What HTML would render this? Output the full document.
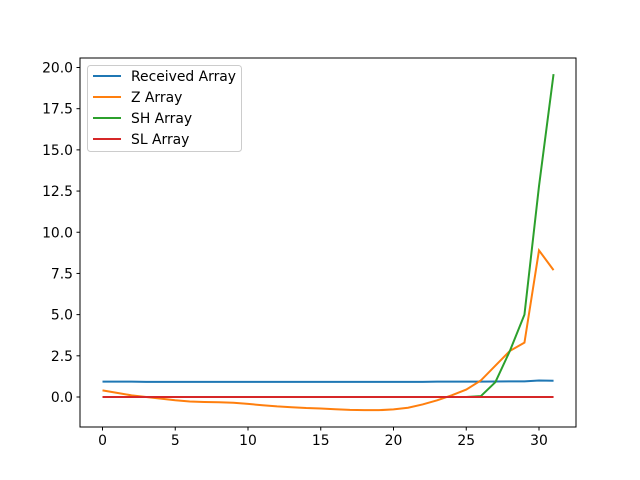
<!DOCTYPE html>
<html><head><meta charset="utf-8"><style>
body{margin:0;background:#fff;}
svg{display:block;font-family:"DejaVu Sans","Liberation Sans",sans-serif;}
</style></head><body>
<svg id="chart" width="640" height="480" xmlns="http://www.w3.org/2000/svg">
<rect x="0" y="0" width="640" height="480" fill="#fff"/>
<g id="plot"></g>
<rect x="80" y="58" width="496" height="369" fill="none" stroke="#000" stroke-width="1"/>
<g id="xt"></g><g id="yt"></g>
<g>
<rect x="87.5" y="65.5" width="154" height="86" rx="3" fill="#fff" fill-opacity="0.8" stroke="#ccc"/>
<g id="leg"></g>
</g>
</svg>
<script>
const xIdx=[...Array(32).keys()];
const received=[0.93,0.93,0.93,0.92,0.92,0.92,0.92,0.92,0.92,0.92,0.92,0.92,0.92,0.92,0.92,0.92,0.92,0.92,0.92,0.92,0.92,0.92,0.92,0.93,0.93,0.93,0.93,0.94,0.95,0.95,1.0,0.99];
const zArr=[0.4,0.25,0.1,0.0,-0.1,-0.2,-0.27,-0.3,-0.32,-0.35,-0.42,-0.5,-0.57,-0.62,-0.67,-0.7,-0.74,-0.78,-0.8,-0.8,-0.75,-0.65,-0.45,-0.2,0.1,0.45,1.0,1.9,2.8,3.3,8.9,7.7];
const shArr=[0,0,0,0,0,0,0,0,0,0,0,0,0,0,0,0,0,0,0,0,0,0,0,0,0,0,0.05,0.9,2.8,5.0,12.8,19.6];
const slArr=new Array(32).fill(0);
const seriesNames=["Received Array","Z Array","SH Array","SL Array"];
const xTicks=[0,5,10,15,20,25,30];
const yTicks=[0,2.5,5,7.5,10,12.5,15,17.5,20];
const yLabels=["0.0","2.5","5.0","7.5","10.0","12.5","15.0","17.5","20.0"];
const colors=["#1f77b4","#ff7f0e","#2ca02c","#d62728"];
const X=v=>102.5+v*14.55, Y=v=>397-v*16.475;
const NS="http://www.w3.org/2000/svg";
function mk(t,a,p){const e=document.createElementNS(NS,t);for(const k in a)e.setAttribute(k,a[k]);p.appendChild(e);return e;}
const plot=document.getElementById('plot');
[received,zArr,shArr,slArr].forEach((s,i)=>{
 const e=mk('polyline',{points:s.map((v,j)=>X(xIdx[j])+','+Y(v)).join(' '),fill:'none',stroke:colors[i],'stroke-width':2},plot);
 
 
});
const xt=document.getElementById('xt');
xTicks.forEach(t=>{
 mk('line',{x1:X(t),x2:X(t),y1:427,y2:430.5,stroke:'#000'},xt);
 const e=mk('text',{x:X(t),y:445,'font-size':'13.9','text-anchor':'middle'},xt);e.textContent=t;
 
 
});
const yt=document.getElementById('yt');
yTicks.forEach((t,i)=>{
 mk('line',{x1:76.5,x2:80,y1:Y(t),y2:Y(t),stroke:'#000'},yt);
 const e=mk('text',{x:73,y:Y(t)+5,'font-size':'13.9','text-anchor':'end'},yt);e.textContent=yLabels[i];
 
 
});
const leg=document.getElementById('leg');
seriesNames.forEach((n,i)=>{
 const y=76+i*21;
 mk('line',{x1:93,x2:121,y1:y,y2:y,stroke:colors[i],'stroke-width':2},leg);
 const e=mk('text',{x:131,y:y+5,'font-size':'13.9'},leg);e.textContent=n;
 
 
});
</script>
</body></html>
